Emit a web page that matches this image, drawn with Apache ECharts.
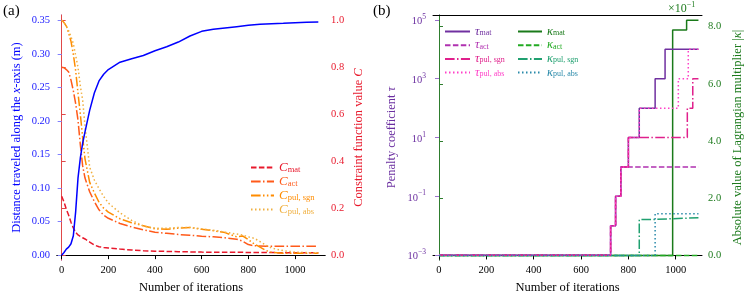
<!DOCTYPE html>
<html><head><meta charset="utf-8">
<script src="https://cdn.jsdelivr.net/npm/echarts@6/dist/echarts.min.js"></script>
<style>html,body{margin:0;padding:0;background:#fff}#c{width:748px;height:299px}</style>
</head><body><div id="c"></div>
<script>
// ---------- Panel (a) data ----------
const iterA = [0,10,20,30,40,50,60,70,80,90,100,120,140,160,180,200,250,300,350,400,450,500,550,600,650,700,750,775,800,825,850,875,900,950,1000,1050,1100];
const distance = [0,0.004,0.009,0.012,0.017,0.029,0.065,0.115,0.145,0.167,0.184,0.216,0.242,0.26,0.27,0.277,0.288,0.293,0.298,0.305,0.311,0.318,0.327,0.334,0.337,0.339,0.341,0.342,0.343,0.344,0.3445,0.345,0.3455,0.346,0.347,0.3475,0.348];
const cMat = [0.251,0.226,0.195,0.17,0.14,0.116,0.097,0.086,0.08,0.074,0.069,0.056,0.043,0.036,0.033,0.031,0.026,0.022,0.019,0.017,0.016,0.015,0.014,0.013,0.0125,0.012,0.012,0.012,0.0115,0.0115,0.011,0.011,0.011,0.0105,0.0105,0.01,0.01];
const cAct = [0.8,0.798,0.79,0.78,0.745,0.7,0.645,0.575,0.47,0.38,0.328,0.27,0.228,0.193,0.17,0.157,0.135,0.12,0.108,0.098,0.093,0.088,0.085,0.081,0.078,0.074,0.068,0.06,0.045,0.04,0.039,0.038,0.038,0.038,0.038,0.038,0.038];
const cPulSgn = [1.0,0.99,0.975,0.945,0.91,0.855,0.785,0.69,0.6,0.5,0.41,0.31,0.265,0.225,0.2,0.183,0.155,0.138,0.125,0.112,0.11,0.115,0.118,0.11,0.104,0.096,0.078,0.082,0.066,0.048,0.034,0.02,0.012,0.008,0.008,0.008,0.008];
const cPulAbs = [1.0,0.99,0.975,0.955,0.93,0.9,0.85,0.8,0.72,0.66,0.55,0.375,0.32,0.283,0.25,0.222,0.18,0.148,0.124,0.115,0.115,0.118,0.118,0.112,0.106,0.098,0.09,0.086,0.078,0.072,0.058,0.043,0.03,0.019,0.013,0.011,0.01];
const xTicks = [0,200,400,600,800,1000];
const distTicks = [0,0.05,0.10,0.15,0.20,0.25,0.30,0.35];
const cTicks = [0,0.2,0.4,0.6,0.8,1.0];

// ---------- Panel (b) data ----------
const tauMatIter = [0,725,746,768,800,846,913,955,1096];
const tauMat = [1e-3,1e-2,1e-1,1,10,100,1000,10000,10000];
const tauActIter = [0,725,746,768,1096];
const tauAct = [1e-3,1e-2,1e-1,1,1];
const tauSgnIter = [0,725,746,768,800,1049,1072,1096];
const tauSgn = [1e-3,1e-2,1e-1,1,10,100,1000,1000];
const tauAbsIter = [0,725,746,768,800,846,1011,1053,1096];
const tauAbs = [1e-3,1e-2,1e-1,1,10,100,1000,10000,10000];
const kMatIter = [0,987,1046,1096];
const kMat = [0,7.88,8.22,8.22];
const kActIter = [0,1096];
const kAct = [0,0];
const kSgnIter = [0,846,913,1096];
const kSgn = [0,1.26,1.32,1.32];
const kAbsIter = [0,913,1096];
const kAbs = [0,1.46,1.46];
const tauTicks = [1e-3,1e-1,1e1,1e3,1e5];
const kTicks = [0,2,4,6,8];

const FONT = 'Liberation Serif';
const pair = (xs, ys) => xs.map((x, i) => [x, ys[i]]);
const DASH = [5.5,2.4], DASHDOT = [9.6,2.4,1.5,2.4], DOT = [1.5,2.5], DASHDOTDOT = [9.6,2.4,1.5,2.4,1.5,2.4];

const colA = {Cmat:'#e8192c', Cact:'#ff5a1a', Csgn:'#ff8c00', Cabs:'#f0b040'};
const colB = {tmat:'#7030a0', tact:'#b030b0', tsgn:'#e0208c', tabs:'#ff40c8', kmat:'#1a7a1a', kact:'#22aa22', ksgn:'#20a070', kabs:'#2a8aaa'};
const BLUE = '#0000ff', RED = '#e8192c', PURPLE = '#6b2fa0', GREEN = '#1e7b1e';

const legendLabels = {
  Cmat:['C','mat'], Cact:['C','act'], Csgn:['C','pul, sgn'], Cabs:['C','pul, abs'],
  tmat:['τ','mat'], tact:['τ','act'], tsgn:['τ','pul, sgn'], tabs:['τ','pul, abs'],
  kmat:['κ','mat'], kact:['κ','act'], ksgn:['κ','pul, sgn'], kabs:['κ','pul, abs']
};
function richFor(cols, mainSize, subSize, lh) {
  const r = {};
  Object.keys(cols).forEach(k => {
    r['m_' + k] = {fontFamily: FONT, fontStyle: 'italic', fontSize: mainSize, color: cols[k], lineHeight: lh, verticalAlign: 'middle'};
    r['s_' + k] = {fontFamily: FONT, fontSize: subSize, color: cols[k], lineHeight: lh, verticalAlign: 'bottom'};
  });
  return r;
}
const legFmt = n => `{m_${n}|${legendLabels[n][0]}}{s_${n}|${legendLabels[n][1]}}`;

function yName(color) { return {fontFamily: FONT, fontSize: 12.5, color: color}; }

const chart = echarts.init(document.getElementById('c'), null, {renderer: 'canvas'});
const lineS = (name, xi, yi, data, color, type, z, step) => ({
  name, type: 'line', xAxisIndex: xi, yAxisIndex: yi, data, symbol: 'none', showSymbol: false,
  step: step || false, clip: false, z: z || 2, animation: false,
  lineStyle: {color, width: 1.5, type: type || 'solid'}, itemStyle: {color}
});

const frameX = (gi, min, max) => ({
  type: 'value', gridIndex: gi, position: 'top', min, max,
  axisLine: {show: true, lineStyle: {color: '#000', width: 1}},
  axisTick: {show: false}, axisLabel: {show: false}, splitLine: {show: false}
});
const xAx = (gi, min, max) => ({
  type: 'value', gridIndex: gi, min, max, position: 'bottom',
  name: 'Number of iterations', nameLocation: 'middle', nameGap: 20,
  nameTextStyle: {fontFamily: FONT, fontSize: 12.5, color: '#000'},
  axisLine: {show: true, lineStyle: {color: '#000', width: 1}},
  axisTick: {show: true, length: 4, inside: false, customValues: xTicks, lineStyle: {color: '#000'}},
  axisLabel: {customValues: xTicks, margin: 5, fontFamily: FONT, fontSize: 10.5, color: '#000', formatter: v => String(v)},
  splitLine: {show: false}
});
const legBase = {orient: 'vertical', selectedMode: false, padding: 0, itemStyle: {opacity: 0}, formatter: legFmt};

const option = {
  animation: false,
  backgroundColor: '#fff',
  title: [
    {text: '(a)', left: 3, top: 4, padding: 0, textStyle: {fontFamily: FONT, fontSize: 15, fontWeight: 'normal', color: '#000'}},
    {text: '(b)', left: 373, top: 4, padding: 0, textStyle: {fontFamily: FONT, fontSize: 15, fontWeight: 'normal', color: '#000'}}
  ],
  graphic: [
    {type: 'text', left: 668, top: 1, z: 100, style: {text: '{a|×10}{b|−1}', rich: {
      a: {fontFamily: FONT, fontSize: 12, fill: GREEN, verticalAlign: 'bottom', lineHeight: 14},
      b: {fontFamily: FONT, fontSize: 8, fill: GREEN, verticalAlign: 'top', lineHeight: 14}}}}
  ],
  grid: [
    {left: 57, top: 15, width: 268, height: 248},
    {left: 433, top: 15, width: 269, height: 248}
  ],
  xAxis: [
    xAx(0, -20, 1128.6),
    frameX(0, -20, 1128.6),
    xAx(1, -25.3, 1111),
    frameX(1, -25.3, 1111)
  ],
  yAxis: [
    {type: 'value', gridIndex: 0, position: 'left', min: -0.0074, max: 0.3584,
     name: 'Distance traveled along the {i|x}-axis (m)', nameLocation: 'middle', nameRotate: 90, nameGap: 34,
     nameTextStyle: Object.assign(yName(BLUE), {rich: {i: {fontFamily: FONT, fontStyle: 'italic', fontSize: 12.5, color: BLUE}}}),
     axisLine: {show: true, lineStyle: {color: '#8080ff', width: 1}},
     axisTick: {show: true, length: 4, customValues: distTicks, lineStyle: {color: '#8080ff'}},
     axisLabel: {customValues: distTicks, margin: 7, fontFamily: FONT, fontSize: 10.5, color: '#1a1aff', formatter: v => v.toFixed(2)},
     splitLine: {show: false}},
    {type: 'value', gridIndex: 0, position: 'right', min: -0.021, max: 1.0223,
     name: 'Constraint function value {i|C}', nameLocation: 'middle', nameRotate: 90, nameGap: 27,
     nameTextStyle: Object.assign(yName(RED), {rich: {i: {fontFamily: FONT, fontStyle: 'italic', fontSize: 12.5, color: RED}}}),
     axisLine: {show: true, lineStyle: {color: '#e04848', width: 1}},
     axisTick: {show: true, length: 4, customValues: cTicks, lineStyle: {color: '#e04848'}},
     axisLabel: {customValues: cTicks, margin: 6, fontFamily: FONT, fontSize: 10.5, color: RED, formatter: v => v.toFixed(1)},
     splitLine: {show: false}},
    {type: 'log', logBase: 10, gridIndex: 1, position: 'left', min: 6.79e-4, max: 1.472e5,
     name: 'Penalty coefficient {i|τ}', nameLocation: 'middle', nameRotate: 90, nameGap: 35,
     nameTextStyle: Object.assign(yName(PURPLE), {rich: {i: {fontFamily: FONT, fontStyle: 'italic', fontSize: 12.5, color: PURPLE}}}),
     axisLine: {show: true, lineStyle: {color: '#9a70cc', width: 1}},
     axisTick: {show: true, length: 4, customValues: tauTicks, lineStyle: {color: '#9a70cc'}},
     axisLabel: {customValues: tauTicks, margin: 7, color: PURPLE,
       formatter: v => { const e = Math.round(Math.log10(v)); return '{b|10}{p|' + (e < 0 ? '−' + (-e) : e) + '}'; },
       rich: {b: {fontFamily: FONT, fontSize: 10.5, color: PURPLE, verticalAlign: 'bottom', lineHeight: 14},
              p: {fontFamily: FONT, fontSize: 7.5, color: PURPLE, verticalAlign: 'top', lineHeight: 14}}},
     splitLine: {show: false}},
    {type: 'value', gridIndex: 1, position: 'right', min: -0.162, max: 8.404,
     name: 'Absolute value of Lagrangian multiplier |{i|κ}|', nameLocation: 'middle', nameRotate: 90, nameGap: 29,
     nameTextStyle: Object.assign(yName(GREEN), {rich: {i: {fontFamily: FONT, fontStyle: 'italic', fontSize: 12.5, color: GREEN}}}),
     axisLine: {show: true, lineStyle: {color: '#2e7d2e', width: 1}},
     axisTick: {show: true, length: 4, customValues: kTicks, lineStyle: {color: '#2e7d2e'}},
     axisLabel: {customValues: kTicks, margin: 6, fontFamily: FONT, fontSize: 10.5, color: GREEN, formatter: v => v.toFixed(1)},
     splitLine: {show: false}}
  ],
  legend: [
    Object.assign({}, legBase, {left: 250, top: 161, itemWidth: 23, itemHeight: 12, itemGap: 1,
     data: ['Cmat','Cact','Csgn','Cabs'], textStyle: {rich: richFor(colA, 13, 8.5, 13)}}),
    Object.assign({}, legBase, {left: 444, top: 25, itemWidth: 25, itemHeight: 11, itemGap: 0.7,
     data: ['tmat','tact','tsgn','tabs'], textStyle: {rich: richFor(colB, 12.5, 8, 11)}}),
    Object.assign({}, legBase, {left: 517, top: 25, itemWidth: 24, itemHeight: 11, itemGap: 0.7,
     data: ['kmat','kact','ksgn','kabs'], textStyle: {rich: richFor(colB, 12.5, 8, 11)}})
  ],
  series: [
    lineS('dist', 0, 0, pair(iterA, distance), BLUE, 'solid', 5),
    lineS('Cmat', 0, 1, pair(iterA, cMat), colA.Cmat, DASH, 4),
    lineS('Cact', 0, 1, pair(iterA, cAct), colA.Cact, DASHDOT, 4),
    lineS('Csgn', 0, 1, pair(iterA, cPulSgn), colA.Csgn, DASHDOTDOT, 4),
    lineS('Cabs', 0, 1, pair(iterA, cPulAbs), colA.Cabs, DOT, 4),
    lineS('kmat', 2, 3, pair(kMatIter, kMat), colB.kmat, 'solid', 2, 'end'),
    lineS('kact', 2, 3, pair(kActIter, kAct), colB.kact, DASH, 2, 'end'),
    lineS('ksgn', 2, 3, pair(kSgnIter, kSgn), colB.ksgn, DASHDOT, 2, 'end'),
    lineS('tmat', 2, 2, pair(tauMatIter, tauMat), colB.tmat, 'solid', 3, 'end'),
    lineS('tact', 2, 2, pair(tauActIter, tauAct), colB.tact, DASH, 3, 'end'),
    lineS('tsgn', 2, 2, pair(tauSgnIter, tauSgn), colB.tsgn, DASHDOT, 3, 'end'),
    lineS('tabs', 2, 2, pair(tauAbsIter, tauAbs), colB.tabs, DOT, 3, 'end'),
    lineS('kabs', 2, 3, pair(kAbsIter, kAbs), colB.kabs, DOT, 4, 'end')
  ]
};
chart.setOption(option);
</script>
</body></html>
